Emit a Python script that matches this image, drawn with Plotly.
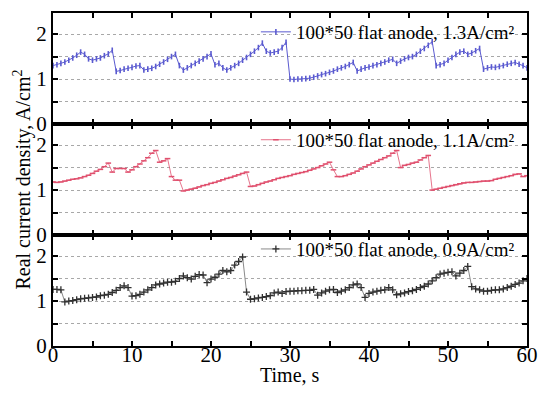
import plotly.graph_objects as go

time_s = [0, 0.5, 1, 1.5, 2, 2.5, 3, 3.5, 4, 4.5, 5, 5.5, 6, 6.5, 7, 7.5, 8, 8.5, 9, 9.5,
          10, 10.5, 11, 11.5, 12, 12.5, 13, 13.5, 14, 14.5, 15, 15.5, 16, 16.5, 17, 17.5, 18, 18.5, 19, 19.5,
          20, 20.5, 21, 21.5, 22, 22.5, 23, 23.5, 24, 24.5, 25, 25.5, 26, 26.5, 27, 27.5, 28, 28.5, 29, 29.5,
          30, 30.5, 31, 31.5, 32, 32.5, 33, 33.5, 34, 34.5, 35, 35.5, 36, 36.5, 37, 37.5, 38, 38.5, 39, 39.5,
          40, 40.5, 41, 41.5, 42, 42.5, 43, 43.5, 44, 44.5, 45, 45.5, 46, 46.5, 47, 47.5, 48, 48.5, 49, 49.5,
          50, 50.5, 51, 51.5, 52, 52.5, 53, 53.5, 54, 54.5, 55, 55.5, 56, 56.5, 57, 57.5, 58, 58.5, 59, 59.5, 60]

j_13 = [1.30, 1.32, 1.35, 1.38, 1.42, 1.47, 1.53, 1.60, 1.55, 1.45, 1.42, 1.45, 1.47, 1.52, 1.56, 1.64, 1.17, 1.19, 1.22, 1.24,
        1.26, 1.29, 1.30, 1.20, 1.22, 1.24, 1.28, 1.33, 1.38, 1.44, 1.50, 1.55, 1.30, 1.20, 1.25, 1.30, 1.35, 1.40, 1.45, 1.50,
        1.56, 1.32, 1.35, 1.25, 1.20, 1.25, 1.30, 1.35, 1.42, 1.48, 1.55, 1.62, 1.70, 1.80, 1.62, 1.58, 1.60, 1.62, 1.70, 1.82,
        1.00, 0.99, 1.00, 1.00, 1.01, 1.02, 1.04, 1.07, 1.10, 1.12, 1.15, 1.18, 1.22, 1.25, 1.28, 1.32, 1.37, 1.18, 1.22, 1.25,
        1.27, 1.30, 1.32, 1.35, 1.38, 1.42, 1.44, 1.35, 1.40, 1.45, 1.48, 1.50, 1.55, 1.62, 1.68, 1.75, 1.83, 1.30, 1.32, 1.35,
        1.42, 1.48, 1.55, 1.60, 1.62, 1.55, 1.58, 1.63, 1.68, 1.22, 1.25, 1.27, 1.26, 1.28, 1.30, 1.33, 1.35, 1.37, 1.33, 1.30, 1.25]

j_11 = [1.18, 1.17, 1.18, 1.20, 1.22, 1.24, 1.25, 1.27, 1.30, 1.33, 1.37, 1.42, 1.46, 1.52, 1.60, 1.40, 1.48, 1.48, 1.48, 1.40,
        1.45, 1.52, 1.58, 1.65, 1.72, 1.82, 1.88, 1.62, 1.65, 1.70, 1.30, 1.22, 1.22, 0.98, 1.00, 1.02, 1.04, 1.07, 1.10, 1.12,
        1.15, 1.17, 1.20, 1.23, 1.26, 1.28, 1.31, 1.34, 1.37, 1.40, 1.08, 1.09, 1.12, 1.15, 1.18, 1.20, 1.23, 1.26, 1.28, 1.30,
        1.32, 1.35, 1.37, 1.39, 1.41, 1.44, 1.47, 1.50, 1.54, 1.58, 1.62, 1.45, 1.30, 1.30, 1.32, 1.35, 1.38, 1.42, 1.47, 1.52,
        1.56, 1.60, 1.64, 1.68, 1.72, 1.76, 1.82, 1.88, 1.50, 1.55, 1.57, 1.60, 1.62, 1.67, 1.72, 1.77, 1.00, 1.02, 1.04, 1.06,
        1.08, 1.10, 1.12, 1.14, 1.16, 1.17, 1.17, 1.18, 1.19, 1.20, 1.20, 1.21, 1.24, 1.26, 1.28, 1.30, 1.32, 1.35, 1.36, 1.30, 1.32]

j_09 = [1.26, 1.26, 1.25, 0.98, 1.00, 1.01, 1.03, 1.05, 1.06, 1.07, 1.08, 1.09, 1.12, 1.13, 1.15, 1.19, 1.24, 1.30, 1.34, 1.30,
        1.11, 1.12, 1.15, 1.20, 1.25, 1.30, 1.36, 1.38, 1.40, 1.42, 1.42, 1.44, 1.50, 1.56, 1.52, 1.49, 1.55, 1.59, 1.58, 1.41,
        1.49, 1.53, 1.60, 1.68, 1.65, 1.68, 1.80, 1.88, 1.98, 1.20, 1.04, 1.05, 1.07, 1.08, 1.10, 1.12, 1.18, 1.20, 1.17, 1.21,
        1.22, 1.22, 1.23, 1.23, 1.24, 1.24, 1.26, 1.13, 1.18, 1.22, 1.25, 1.26, 1.19, 1.22, 1.25, 1.30, 1.36, 1.38, 1.30, 1.08,
        1.17, 1.20, 1.22, 1.24, 1.25, 1.30, 1.25, 1.14, 1.16, 1.18, 1.21, 1.23, 1.26, 1.30, 1.33, 1.38, 1.45, 1.52, 1.60, 1.62,
        1.64, 1.65, 1.56, 1.62, 1.68, 1.77, 1.32, 1.27, 1.25, 1.22, 1.22, 1.24, 1.25, 1.25, 1.27, 1.30, 1.33, 1.37, 1.40, 1.45, 1.50]

names = ["100*50 flat anode, 1.3A/cm²",
         "100*50 flat anode, 1.1A/cm²",
         "100*50 flat anode, 0.9A/cm²"]
y_tickvals = [0, 0.5, 1, 1.5, 2]
y_ticktext = ["0", "", "1", "", "2"]
x_tickvals = [0, 5, 10, 15, 20, 25, 30, 35, 40, 45, 50, 55, 60]
x_ticktext = ["0", "", "10", "", "20", "", "30", "", "40", "", "50", "", "60"]

FONT = "Liberation Serif"
blue = "#5a5ad0"
red = "#e0506e"
black = "#303030"

fig = go.Figure()
fig.add_trace(go.Scatter(x=time_s, y=j_13, name=names[0], mode="lines+markers",
                         line=dict(color=blue, width=1),
                         marker=dict(symbol="line-ns", size=4, line=dict(color=blue, width=1.6)),
                         xaxis="x3", yaxis="y3", legend="legend"))
fig.add_trace(go.Scatter(x=time_s, y=j_11, name=names[1], mode="lines+markers",
                         line=dict(color=red, width=0.8),
                         marker=dict(symbol="line-ew", size=4, line=dict(color=red, width=1.5)),
                         xaxis="x2", yaxis="y2", legend="legend2"))
fig.add_trace(go.Scatter(x=time_s, y=j_09, name=names[2], mode="lines+markers",
                         line=dict(color="#8a8a8a", width=1),
                         marker=dict(symbol="cross-thin", size=5, line=dict(color=black, width=1.3)),
                         xaxis="x", yaxis="y", legend="legend3"))

common_x = dict(range=[0, 60], tickvals=x_tickvals, ticktext=x_ticktext, ticks="inside",
                ticklen=5, tickwidth=1.5, tickcolor="black", showline=True, linecolor="black",
                linewidth=2, mirror="ticks", showgrid=False, zeroline=False, automargin=False,
                tickfont=dict(family=FONT, size=21, color="black"))
common_y = dict(range=[0, 2.47], tickvals=y_tickvals, ticktext=y_ticktext, ticks="inside",
                ticklen=5, tickwidth=1.5, tickcolor="black", showline=True, linecolor="black",
                linewidth=2, mirror="ticks", showgrid=True, gridcolor="#a8a8a8", griddash="dot",
                gridwidth=1, zeroline=False, automargin=False,
                tickfont=dict(family=FONT, size=21, color="black"))

legend_common = dict(bgcolor="rgba(0,0,0,0)", font=dict(family=FONT, size=19, color="black"),
                     xanchor="right", x=0.985, itemwidth=30, tracegroupgap=0)

fig.update_layout(
    width=550, height=397,
    margin=dict(l=53, r=23, t=13, b=51),
    paper_bgcolor="white", plot_bgcolor="white",
    font=dict(family=FONT, color="black"),
    xaxis=dict(**common_x, anchor="y", domain=[0, 1], ticklabelstandoff=-11),
    xaxis2=dict(**common_x, anchor="y2", matches="x", showticklabels=False),
    xaxis3=dict(**common_x, anchor="y3", matches="x", showticklabels=False),
    yaxis=dict(**common_y, domain=[0, 1/3], anchor="x"),
    yaxis2=dict(**common_y, domain=[1/3, 2/3], anchor="x2",
                title=dict(text="Real current density, A/cm<sup>2</sup>",
                           font=dict(family=FONT, size=20), standoff=0)),
    yaxis3=dict(**common_y, domain=[2/3, 1], anchor="x3"),
    legend=dict(**legend_common, y=1.0, yanchor="top"),
    legend2=dict(**legend_common, y=0.619, yanchor="middle"),
    legend3=dict(**legend_common, y=0.291, yanchor="middle"),
    showlegend=True,
    annotations=[dict(text="Time, s", xref="paper", yref="paper", x=0.5, y=-0.087,
                      xanchor="center", yanchor="middle", showarrow=False,
                      font=dict(family=FONT, size=20, color="black"))],
)

fig.write_html("out.html", config={"displayModeBar": False},
               post_script="document.body.style.margin='0';document.body.style.overflow='hidden';")
